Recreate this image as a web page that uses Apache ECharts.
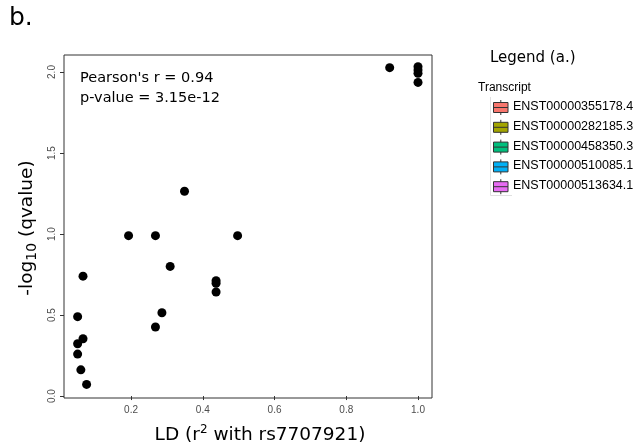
<!DOCTYPE html>
<html>
<head>
<meta charset="utf-8">
<script src="https://cdn.jsdelivr.net/npm/echarts@6/dist/echarts.min.js"></script>
<style>
html,body{margin:0;padding:0;background:#fff;}
#chart{width:634px;height:445px;}
</style>
</head>
<body>
<div id="chart"></div>
<script>
// LD (r^2 with rs7707921) for each point
const ld = [0.193, 0.268, 0.497, 0.309, 0.066, 0.437, 0.437, 0.437, 0.051, 0.286, 0.268,
            0.066, 0.051, 0.051, 0.060, 0.076, 0.349, 0.921, 1.0, 1.0, 1.0, 1.0];
// -log10(qvalue) for each point
const qval = [0.99, 0.99, 0.99, 0.80, 0.74, 0.712, 0.696, 0.642, 0.49, 0.514, 0.426,
              0.354, 0.323, 0.259, 0.162, 0.072, 1.264, 2.027, 2.033, 2.012, 1.992, 1.936];
const xTicks = [0.2, 0.4, 0.6, 0.8, 1.0];
const yTicks = [0.0, 0.5, 1.0, 1.5, 2.0];
const statLines = ["Pearson's r = 0.94", "p-value = 3.15e-12"];
const transcripts = ['ENST00000355178.4', 'ENST00000282185.3', 'ENST00000458350.3',
                     'ENST00000510085.1', 'ENST00000513634.1'];
const transcriptColors = ['#F8766D', '#A3A500', '#00BF7D', '#00B0F6', '#E76BF3'];

const chart = echarts.init(document.getElementById('chart'), null, {renderer: 'canvas'});

const points = ld.map((x, i) => [x, qval[i]]);

const legendGraphics = [];
legendGraphics.push({
  type: 'text', left: 490, top: 51,
  style: {text: 'Legend (a.)', font: '15px "DejaVu Sans"', fill: '#000'}
});
legendGraphics.push({
  type: 'text', left: 478, top: 82,
  style: {text: 'Transcript', font: '12px "Liberation Sans", Arial', fill: '#000'}
});
legendGraphics.push({
  type: 'polyline', silent: true,
  shape: {points: [[490.5, 97], [490.5, 195.5], [512, 195.5]]},
  style: {stroke: '#e0e0e0', lineWidth: 1, fill: null}
});
transcripts.forEach((name, i) => {
  const cy = 107.5 + 19.8 * i;
  legendGraphics.push({
    type: 'line', silent: true,
    shape: {x1: 500.8, y1: cy - 7.5, x2: 500.8, y2: cy + 7.5},
    style: {stroke: '#333', lineWidth: 1}
  });
  legendGraphics.push({
    type: 'rect', silent: true,
    shape: {x: 493.5, y: cy - 5, width: 14.5, height: 10},
    style: {fill: transcriptColors[i], stroke: '#333', lineWidth: 1}
  });
  legendGraphics.push({
    type: 'line', silent: true,
    shape: {x1: 493.5, y1: cy, x2: 508, y2: cy},
    style: {stroke: '#333', lineWidth: 1}
  });
  legendGraphics.push({
    type: 'text', left: 513, top: cy - 7.5,
    style: {text: name, font: '12.5px "Liberation Sans", Arial', fill: '#000'}
  });
});

const option = {
  backgroundColor: '#fff',
  animation: false,
  grid: {left: 64, top: 55, right: 202, bottom: 47, show: true,
         borderColor: '#333', borderWidth: 1, backgroundColor: 'transparent'},
  xAxis: {
    type: 'value', min: 0.013, max: 1.039,
    splitLine: {show: false},
    axisLine: {show: false},
    axisTick: {show: true, length: 4, lineStyle: {color: '#333'}, customValues: xTicks},
    axisLabel: {show: true, margin: 7, color: '#4d4d4d', fontSize: 10,
                fontFamily: '"Liberation Sans", Arial', customValues: xTicks,
                formatter: v => v.toFixed(1)}
  },
  yAxis: {
    type: 'value', min: -0.012, max: 2.105,
    splitLine: {show: false},
    axisLine: {show: false},
    axisTick: {show: true, length: 4, lineStyle: {color: '#333'}, customValues: yTicks},
    axisLabel: {show: true, margin: 7, rotate: 90, color: '#4d4d4d', fontSize: 10,
                fontFamily: '"Liberation Sans", Arial', customValues: yTicks,
                formatter: v => v.toFixed(1)}
  },
  series: [{
    type: 'scatter',
    data: points,
    symbol: 'circle',
    symbolSize: 9,
    itemStyle: {color: '#000', opacity: 1},
    silent: true
  }],
  graphic: [
    {type: 'text', left: 9, top: 6,
     style: {text: 'b.', font: '25px "DejaVu Sans"', fill: '#000'}},
    {type: 'text', left: 80, top: 68,
     style: {text: statLines.join('\n'), font: '14.5px "DejaVu Sans"', lineHeight: 20, fill: '#000'}},
    {type: 'text', x: 260, y: 435,
     style: {
       text: '{a|LD (r}{p|2}{a| with rs7707921)}',
       align: 'center', verticalAlign: 'middle',
       rich: {
         a: {fontFamily: 'DejaVu Sans', fontSize: 18.5, lineHeight: 22, verticalAlign: 'middle', color: '#000'},
         p: {fontFamily: 'DejaVu Sans', fontSize: 12, lineHeight: 12, verticalAlign: 'top', color: '#000'}
       }
     }},
    {type: 'text', x: 27, y: 228, rotation: Math.PI / 2,
     style: {
       text: '{a|-log}{s|10}{a| (qvalue)}',
       align: 'center', verticalAlign: 'middle',
       rich: {
         a: {fontFamily: 'DejaVu Sans', fontSize: 18.5, lineHeight: 24, verticalAlign: 'middle', color: '#000'},
         s: {fontFamily: 'DejaVu Sans', fontSize: 14, lineHeight: 12, verticalAlign: 'bottom', color: '#000'}
       }
     }}
  ].concat(legendGraphics)
};
chart.setOption(option);
</script>
</body>
</html>
